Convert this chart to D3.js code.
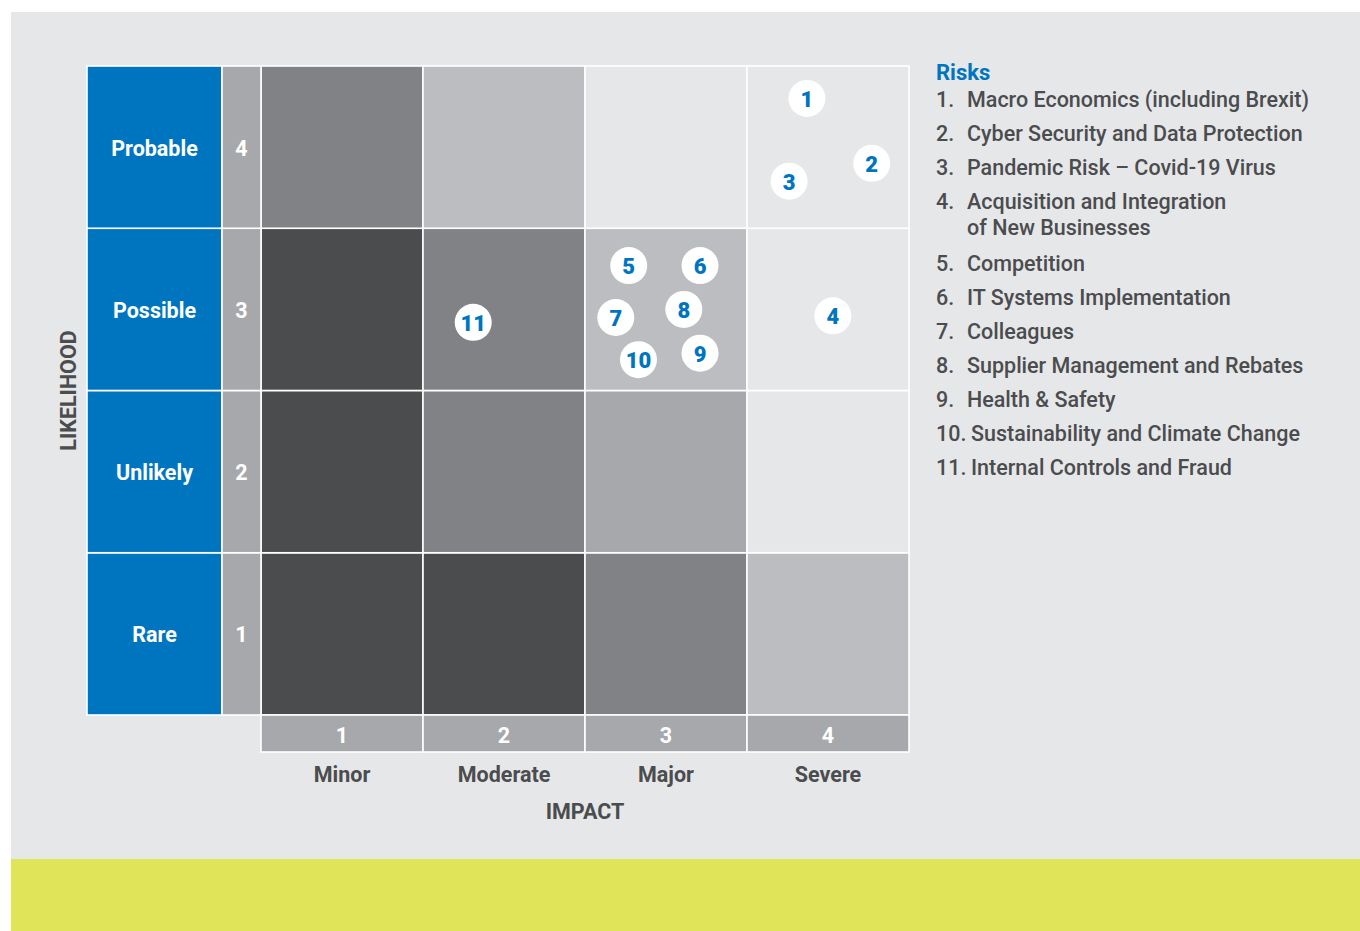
<!DOCTYPE html>
<html>
<head>
<meta charset="utf-8">
<script src="https://cdn.jsdelivr.net/npm/d3@7"></script>
<style>
  html, body { margin: 0; padding: 0; background: #ffffff; }
  svg { display: block; font-family: Roboto, "Noto Sans", sans-serif; }
</style>
</head>
<body>
<svg id="chart" width="1360" height="931"></svg>
<script>
// Axis categories (index 0 = level 1)
const likelihoodLabels = ["Rare", "Unlikely", "Possible", "Probable"];
const impactLabels = ["Minor", "Moderate", "Major", "Severe"];
const levels = [1, 2, 3, 4];

// Shade index of each cell, rows = likelihood 1..4, columns = impact 1..4
const cellShade = [
  [4, 4, 3, 1], // Rare
  [4, 3, 2, 0], // Unlikely
  [4, 3, 1, 0], // Possible
  [3, 1, 0, 0]  // Probable
];
const shadeColors = ["#e6e7e9", "#bcbdc0", "#a7a8ab", "#818285", "#4b4c4e"];

// Risks: id, legend text (lines), placement on the impact / likelihood scales
const riskIds = [1, 2, 3, 4, 5, 6, 7, 8, 9, 10, 11];
const riskNames = [
  ["Macro Economics (including Brexit)"],
  ["Cyber Security and Data Protection"],
  ["Pandemic Risk – Covid-19 Virus"],
  ["Acquisition and Integration", "of New Businesses"],
  ["Competition"],
  ["IT Systems Implementation"],
  ["Colleagues"],
  ["Supplier Management and Rebates"],
  ["Health & Safety"],
  ["Sustainability and Climate Change"],
  ["Internal Controls and Fraud"]
];
const riskImpact =     [3.87, 4.27, 3.76, 4.03, 2.77, 3.21, 2.69, 3.11, 3.21, 2.83, 1.81];
const riskLikelihood = [4.30, 3.90, 3.79, 2.96, 3.27, 3.27, 2.95, 3.00, 2.73, 2.69, 2.92];

const BLUE = "#0075bf";
const TEXT = "#4b4c4e";
const PANEL = "#e6e7e9";
const FS = 21.5;

const svg = d3.select("#chart");

// page panel and bottom band
svg.append("rect").attr("x", 11).attr("y", 12).attr("width", 1349).attr("height", 919).attr("fill", PANEL);
svg.append("rect").attr("x", 11).attr("y", 859).attr("width", 1349).attr("height", 72).attr("fill", "#dfe459");

// scales
const x = d3.scaleBand().domain(levels).range([261, 909]);
const y = d3.scaleBand().domain(levels.slice().reverse()).range([66, 715]);
const xPos = d3.scaleLinear().domain([0.5, 4.5]).range([261, 909]);
const yPos = d3.scaleLinear().domain([0.5, 4.5]).range([715, 66]);

const labelX0 = 87, labelX1 = 222, numX1 = 261;

// heat-map cells
const cells = [];
levels.forEach((l, li) => levels.forEach((im, ii) => cells.push({ l, im, s: cellShade[li][ii] })));
svg.append("g").selectAll("rect").data(cells).join("rect")
  .attr("x", d => x(d.im)).attr("y", d => y(d.l))
  .attr("width", x.bandwidth()).attr("height", y.bandwidth())
  .attr("fill", d => shadeColors[d.s])
  .attr("stroke", "#ffffff").attr("stroke-width", 1.6);

// likelihood label column
const rowG = svg.append("g").selectAll("g").data(levels).join("g");
rowG.append("rect")
  .attr("x", labelX0).attr("y", d => y(d))
  .attr("width", labelX1 - labelX0).attr("height", y.bandwidth())
  .attr("fill", BLUE).attr("stroke", "#ffffff").attr("stroke-width", 1.6);
rowG.append("rect")
  .attr("x", labelX1).attr("y", d => y(d))
  .attr("width", numX1 - labelX1).attr("height", y.bandwidth())
  .attr("fill", "#a7a8ab").attr("stroke", "#ffffff").attr("stroke-width", 1.6);
rowG.append("text")
  .attr("x", (labelX0 + labelX1) / 2).attr("y", d => y(d) + y.bandwidth() / 2 + 1)
  .attr("text-anchor", "middle").attr("dominant-baseline", "central")
  .attr("fill", "#ffffff").attr("font-size", FS).attr("font-weight", 700)
  .text(d => likelihoodLabels[d - 1]);
rowG.append("text")
  .attr("x", (labelX1 + numX1) / 2).attr("y", d => y(d) + y.bandwidth() / 2 + 1)
  .attr("text-anchor", "middle").attr("dominant-baseline", "central")
  .attr("fill", "#ffffff").attr("font-size", FS).attr("font-weight", 700)
  .text(d => d);

// impact number row and labels
const colG = svg.append("g").selectAll("g").data(levels).join("g");
colG.append("rect")
  .attr("x", d => x(d)).attr("y", 715)
  .attr("width", x.bandwidth()).attr("height", 37)
  .attr("fill", "#a7a8ab").attr("stroke", "#ffffff").attr("stroke-width", 1.6);
colG.append("text")
  .attr("x", d => x(d) + x.bandwidth() / 2).attr("y", 735)
  .attr("text-anchor", "middle").attr("dominant-baseline", "central")
  .attr("fill", "#ffffff").attr("font-size", FS).attr("font-weight", 700)
  .text(d => d);
colG.append("text")
  .attr("x", d => x(d) + x.bandwidth() / 2).attr("y", 774)
  .attr("text-anchor", "middle").attr("dominant-baseline", "central")
  .attr("fill", TEXT).attr("font-size", FS).attr("font-weight", 700)
  .text(d => impactLabels[d - 1]);

// axis titles
svg.append("text")
  .attr("x", 585).attr("y", 811)
  .attr("text-anchor", "middle").attr("dominant-baseline", "central")
  .attr("fill", TEXT).attr("font-size", FS).attr("font-weight", 700)
  .text("IMPACT");
svg.append("text")
  .attr("transform", "translate(68,390.5) rotate(-90)")
  .attr("text-anchor", "middle").attr("dominant-baseline", "central")
  .attr("fill", TEXT).attr("font-size", FS).attr("font-weight", 700)
  .text("LIKELIHOOD");

// risk markers
const risks = riskIds.map((id, i) => ({ id, im: riskImpact[i], l: riskLikelihood[i] }));
const mk = svg.append("g").selectAll("g").data(risks).join("g")
  .attr("transform", d => `translate(${xPos(d.im)},${yPos(d.l)})`);
mk.append("circle").attr("r", 18.5).attr("fill", "#ffffff");
mk.append("text")
  .attr("y", 1)
  .attr("text-anchor", "middle").attr("dominant-baseline", "central")
  .attr("fill", BLUE).attr("font-size", 22).attr("font-weight", 900)
  .attr("font-family", "Roboto, sans-serif")
  .text(d => d.id);

// legend
const lg = svg.append("g").attr("transform", "translate(936,0)");
lg.append("text").attr("x", 0).attr("y", 80)
  .attr("fill", BLUE).attr("font-size", 22).attr("font-weight", 700).text("Risks");
let baseline = 107;
riskIds.forEach((id, i) => {
  const indent = id >= 10 ? 35 : 31;
  lg.append("text").attr("x", 0).attr("y", baseline)
    .attr("fill", TEXT).attr("font-size", FS).attr("font-weight", 500).text(id + ".");
  riskNames[i].forEach((line, j) => {
    lg.append("text").attr("x", indent).attr("y", baseline + j * 26)
      .attr("fill", TEXT).attr("font-size", FS).attr("font-weight", 500).text(line);
  });
  baseline += 34 + (riskNames[i].length - 1) * 28;
});
</script>
</body>
</html>
